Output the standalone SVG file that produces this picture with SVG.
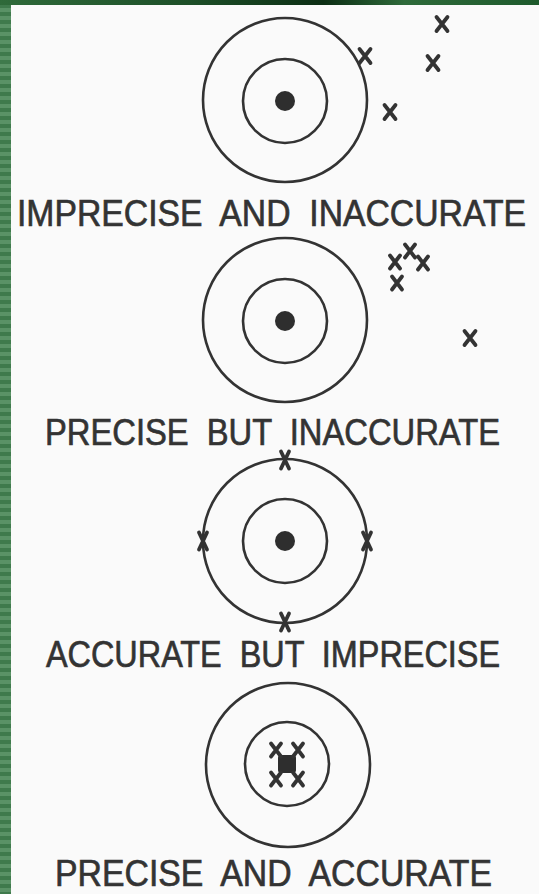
<svg xmlns="http://www.w3.org/2000/svg" xmlns:xlink="http://www.w3.org/1999/xlink" width="539" height="894" viewBox="0 0 539 894">
<defs>
<pattern id="stripes" x="0" y="0" width="11" height="8" patternUnits="userSpaceOnUse">
<rect width="11" height="8" fill="#3f7a4c"/>
<rect width="11" height="4" fill="#5a9266"/>
</pattern>
<linearGradient id="topbar" x1="0" y1="0" x2="1" y2="0">
<stop offset="0" stop-color="#2f6a3a"/>
<stop offset="0.35" stop-color="#1d4f28"/>
<stop offset="0.6" stop-color="#0c2e14"/>
<stop offset="0.75" stop-color="#2e6a3a"/>
<stop offset="1" stop-color="#1e5a2c"/>
</linearGradient>
<path id="xm" d="M-5.5,-7 L5.5,7 M5.5,-7 L-5.5,7"/>
<path id="xn" d="M-4,-8.5 L4,8.5 M4,-8.5 L-4,8.5"/>
<path id="xs" d="M-5,-6.5 L5,6.5 M5,-6.5 L-5,6.5"/>
</defs>
<style>
.ring{fill:none;stroke:#333;stroke-width:2.6}
.dot{fill:#2e2e2e}
.x{fill:none;stroke:#333;stroke-width:3.8;stroke-linecap:round}
.lbl{font-family:"Liberation Sans",Arial,sans-serif;font-size:33px;fill:#333;stroke:#333;stroke-width:0.6;white-space:pre}
</style>
<rect x="0" y="0" width="539" height="894" fill="#fafafa"/>
<rect x="0" y="0" width="11" height="894" fill="url(#stripes)"/>
<rect x="0" y="0" width="539" height="5" fill="url(#topbar)"/>

<g id="target1">
<circle class="ring" cx="285" cy="100" r="82"/>
<circle class="ring" cx="285" cy="101" r="42"/>
<circle class="dot" cx="285" cy="101" r="10"/>
<g class="x">
<use xlink:href="#xm" x="442" y="24"/>
<use xlink:href="#xm" x="433" y="63"/>
<use xlink:href="#xm" x="390" y="112"/>
<use xlink:href="#xm" x="365" y="56"/>
</g>
<text class="lbl" transform="translate(17,226) scale(1,1.12)" x="0" y="0" textLength="509" lengthAdjust="spacingAndGlyphs" xml:space="preserve">IMPRECISE  AND  INACCURATE</text>
</g>

<g id="target2">
<circle class="ring" cx="285" cy="320" r="82"/>
<circle class="ring" cx="285" cy="321" r="42"/>
<circle class="dot" cx="285" cy="321" r="10"/>
<g class="x">
<use xlink:href="#xs" x="395" y="262"/>
<use xlink:href="#xs" x="410" y="251"/>
<use xlink:href="#xs" x="423" y="263"/>
<use xlink:href="#xs" x="397" y="283"/>
<use xlink:href="#xm" x="470" y="338"/>
</g>
<text class="lbl" transform="translate(45,445) scale(1,1.12)" x="0" y="0" textLength="455" lengthAdjust="spacingAndGlyphs" xml:space="preserve">PRECISE  BUT  INACCURATE</text>
</g>

<g id="target3">
<circle class="ring" cx="285" cy="541" r="82"/>
<circle class="ring" cx="285" cy="541" r="42"/>
<circle class="dot" cx="285" cy="541" r="10"/>
<g class="x">
<use xlink:href="#xn" x="285" y="460"/>
<use xlink:href="#xn" x="203" y="541"/>
<use xlink:href="#xn" x="367" y="541"/>
<use xlink:href="#xn" x="285" y="622"/>
</g>
<text class="lbl" transform="translate(46,667) scale(1,1.12)" x="0" y="0" textLength="454" lengthAdjust="spacingAndGlyphs" xml:space="preserve">ACCURATE  BUT  IMPRECISE</text>
</g>

<g id="target4">
<circle class="ring" cx="288" cy="765" r="82"/>
<circle class="ring" cx="287" cy="764" r="42"/>
<rect class="dot" x="278" y="755" width="18" height="18" rx="3"/>
<g class="x">
<use xlink:href="#xs" x="276" y="750"/>
<use xlink:href="#xs" x="298" y="750"/>
<use xlink:href="#xs" x="276" y="779"/>
<use xlink:href="#xs" x="298" y="779"/>
</g>
<text class="lbl" transform="translate(55,886) scale(1,1.12)" x="0" y="0" textLength="437" lengthAdjust="spacingAndGlyphs" xml:space="preserve">PRECISE  AND  ACCURATE</text>
</g>
</svg>
